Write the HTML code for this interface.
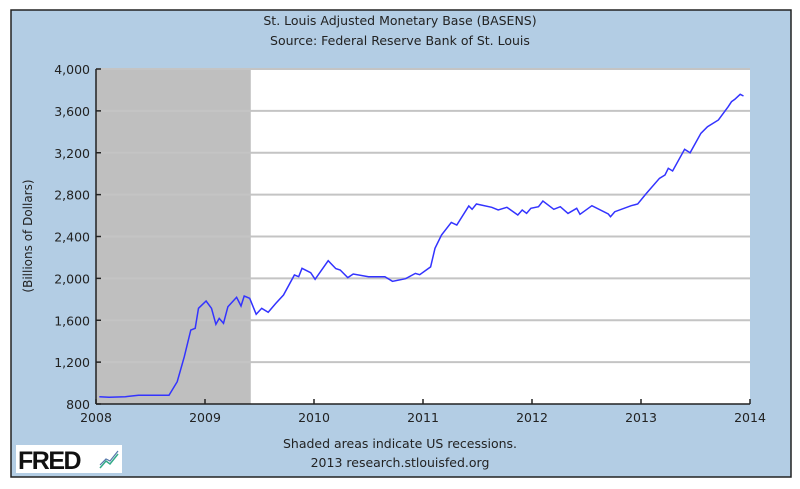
<!DOCTYPE html>
<html><head><meta charset="utf-8"><style>
body{margin:0;background:#fff;}
svg{display:block;font-family:"DejaVu Sans","Liberation Sans",sans-serif;}
</style></head><body>
<svg id="chart" width="800" height="489" viewBox="0 0 800 489">
<rect x="11" y="10" width="780" height="467" fill="#b3cde4" stroke="#222" stroke-width="1.5"/>
<text x="400" y="25" text-anchor="middle" font-size="12.5" fill="#222">St. Louis Adjusted Monetary Base (BASENS)</text>
<text x="400" y="45" text-anchor="middle" font-size="12.5" fill="#222">Source: Federal Reserve Bank of St. Louis</text>
<text transform="translate(32,236) rotate(-90)" text-anchor="middle" font-size="12" fill="#222">(Billions of Dollars)</text>
<text x="400" y="448" text-anchor="middle" font-size="12.5" fill="#222">Shaded areas indicate US recessions.</text>
<text x="400" y="467" text-anchor="middle" font-size="12.5" fill="#222">2013 research.stlouisfed.org</text>
<g>
<rect x="16" y="445" width="106" height="28" fill="#fff"/>
<text x="18" y="469" font-family="Liberation Sans,sans-serif" font-weight="bold" font-size="25" fill="#111" letter-spacing="-1.5">FRED</text>
<polyline points="100,468 106,461 110,464 118,454" fill="none" stroke="#3a8" stroke-width="1.5"/>
<polyline points="100,465 106,459 110,461 118,451" fill="none" stroke="#57a" stroke-width="1.2"/>
</g>
<rect x="96" y="69" width="654" height="335" fill="#fff"/>
<g id="rec"></g>
<g id="grid"></g>
<g id="axes"></g>
<path id="line" fill="none" stroke="#3333ff" stroke-width="1.5"/>
</svg>
<script>
const xTicks=[2008,2009,2010,2011,2012,2013,2014];
const yTicks=[800,1200,1600,2000,2400,2800,3200,3600,4000];
const yTickLabels=["800","1,200","1,600","2,000","2,400","2,800","3,200","3,600","4,000"];
const recessions=[[2008.0,2009.42]];
const dates=[2008.03,2008.12,2008.27,2008.39,2008.67,2008.745,2008.81,2008.87,2008.91,2008.94,2009.01,2009.06,2009.10,2009.13,2009.17,2009.21,2009.29,2009.33,2009.36,2009.41,2009.47,2009.52,2009.58,2009.65,2009.72,2009.82,2009.86,2009.89,2009.97,2010.01,2010.13,2010.20,2010.24,2010.31,2010.36,2010.50,2010.65,2010.72,2010.84,2010.93,2010.97,2011.07,2011.11,2011.17,2011.26,2011.31,2011.42,2011.45,2011.49,2011.63,2011.69,2011.77,2011.87,2011.91,2011.95,2011.99,2012.06,2012.10,2012.20,2012.26,2012.33,2012.41,2012.44,2012.55,2012.70,2012.72,2012.76,2012.91,2012.97,2013.05,2013.17,2013.22,2013.25,2013.29,2013.40,2013.45,2013.55,2013.61,2013.71,2013.80,2013.83,2013.86,2013.91,2013.94];
const values=[870,864,870,883,883,1013,1252,1507,1523,1714,1784,1714,1561,1618,1571,1729,1819,1736,1832,1810,1657,1714,1676,1762,1841,2032,2016,2096,2054,1991,2169,2093,2080,2007,2042,2016,2016,1972,1997,2048,2035,2110,2287,2414,2535,2510,2691,2660,2710,2679,2653,2679,2605,2653,2621,2669,2685,2739,2660,2685,2621,2669,2612,2694,2615,2589,2637,2694,2710,2812,2956,2987,3051,3026,3233,3200,3386,3449,3513,3640,3688,3710,3758,3742];
const X0=96,X1=750,Y0=404,Y1=69;
const sx=v=>X0+(v-2008)/6*(X1-X0);
const sy=v=>Y0-(v-800)/3200*(Y0-Y1);
const NS="http://www.w3.org/2000/svg";
function mk(t,a,p){const e=document.createElementNS(NS,t);for(const k in a)e.setAttribute(k,a[k]);p.appendChild(e);return e;}
const rec=document.getElementById('rec'),grid=document.getElementById('grid'),axes=document.getElementById('axes');
recessions.forEach(r=>{
 const e=mk('rect',{x:sx(r[0]),y:Y1,width:sx(r[1])-sx(r[0]),height:Y0-Y1,fill:'#bfbfbf'},rec);
 
 
});
yTicks.forEach((v,i)=>{
 const y=sy(v);
 if(i>0){const g=mk('line',{x1:X0,x2:X1,y1:y,y2:y,stroke:'#c4c4c4','stroke-width':2},grid);
 
 }
 mk('line',{x1:X0,x2:X0+5,y1:y,y2:y,stroke:'#222','stroke-width':1.5},axes);
 const t=mk('text',{x:X0-6,y:y+5,'text-anchor':'end','font-size':12.5,fill:'#222'},axes);
 t.textContent=yTickLabels[i];
 
 
});
xTicks.forEach(v=>{
 const x=sx(v);
 mk('line',{x1:x,x2:x,y1:Y0,y2:Y0-5,stroke:'#222','stroke-width':1.5},axes);
 const t=mk('text',{x:x,y:Y0+18,'text-anchor':'middle','font-size':12.5,fill:'#222'},axes);
 t.textContent=String(v);
 
 
});
mk('line',{x1:X0,x2:X0,y1:Y1,y2:Y0,stroke:'#222','stroke-width':1.5},axes);
mk('line',{x1:X0,x2:X1,y1:Y0,y2:Y0,stroke:'#222','stroke-width':1.5},axes);
document.getElementById('line').setAttribute('d',dates.map((d,i)=>(i?'L':'M')+sx(d).toFixed(1)+','+sy(values[i]).toFixed(1)).join(''));
</script>
</body></html>
